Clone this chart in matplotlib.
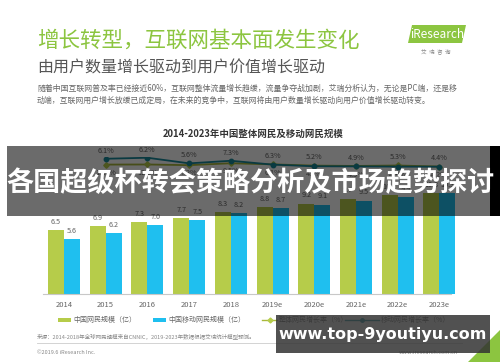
import matplotlib
matplotlib.use('Agg')
import matplotlib.pyplot as plt
from matplotlib.patches import Rectangle, Polygon
from matplotlib.lines import Line2D
import numpy as np

plt.rcParams['font.family'] = ['Noto Sans CJK SC', 'DejaVu Sans']

# ============================================
# DATA
# ============================================
years = ['2014', '2015', '2016', '2017', '2018', '2019e', '2020e', '2021e', '2022e', '2023e']
netizens = [6.5, 6.9, 7.3, 7.7, 8.3, 8.8, 9.2, 9.7, 10.1, 10.3]      # 中国网民规模(亿)
mobile_netizens = [5.6, 6.2, 7.0, 7.5, 8.2, 8.7, 9.1, 9.5, 9.9, 10.3]  # 中国移动网民规模(亿)
overall_growth = [6.1, 6.2, 5.6, 7.3, 6.3, 5.2, 4.9, 5.3, 4.4]       # 2015-2023e
mobile_growth = [11.3, 12.2, 7.2, 9.5, 6.1, 4.6, 4.5, 4.3, 4.2]

GREEN = '#b6cc4a'
BLUE = '#1fbfef'
OLIVE = '#a9b83c'
TEAL = '#1a8a9c'
HEAD_GREEN = '#8cc540'

W, H = 500, 362
fig = plt.figure(figsize=(5, 3.62), dpi=100)
fig.patch.set_facecolor('white')


def fx(x):
    return x / W


def fy(y):
    return 1 - y / H


# ============================================
# HEADER
# ============================================
fig.text(fx(37), fy(41), '增长转型，互联网基本面发生变化', fontsize=15.5,
         color=HEAD_GREEN, va='center', ha='left')
fig.text(fx(37), fy(68), '由用户数量增长驱动到用户价值增长驱动', fontsize=11.5,
         color='#555555', va='center', ha='left')
fig.text(fx(37), fy(88), '随着中国互联网普及率已经接近60%，互联网整体流量增长趋缓，流量争夺战加剧，艾瑞分析认为，无论是PC端，还是移',
         fontsize=5.7, color='#666666', va='center', ha='left')
fig.text(fx(37), fy(100), '动端，互联网用户增长放缓已成定局，在未来的竞争中，互联网将由用户数量增长驱动向用户价值增长驱动转变。',
         fontsize=5.7, color='#666666', va='center', ha='left')

# iResearch logo
fig.patches.append(Polygon([[fx(408), fy(43)], [fx(462), fy(43)], [fx(466), fy(25)], [fx(412), fy(25)]],
                           closed=True, transform=fig.transFigure, facecolor=HEAD_GREEN, edgecolor='none'))
fig.text(fx(437), fy(34), 'iResearch', fontsize=8.5, color='white', ha='center', va='center')
fig.text(fx(436), fy(51), '艾  瑞  咨  询', fontsize=4, color='#888888', ha='center', va='center')

# chart title
fig.text(fx(253), fy(134), '2014-2023年中国整体网民及移动网民规模', fontsize=6.8,
         fontweight='bold', color='#333333', ha='center', va='center')

# ============================================
# BAR CHART
# ============================================
ax = fig.add_axes([fx(43), fy(293.7), fx(451) - fx(43), fy(156.5) - fy(293.7)])
x = np.arange(len(years))
bw = 0.384
b1 = ax.bar(x - bw / 2, netizens, bw, color=GREEN, clip_on=False)
b2 = ax.bar(x + bw / 2, mobile_netizens, bw, color=BLUE, clip_on=False)

for bars in (b1, b2):
    for bar in bars:
        h = bar.get_height()
        ax.annotate(f'{h:.1f}', (bar.get_x() + bar.get_width() / 2, h),
                    xytext=(0, 3), textcoords='offset points',
                    ha='center', va='bottom', fontsize=5.2, color='#666666')

ax.set_xlim(-0.504, 9.28)
ax.set_ylim(0, 14)
ax.set_xticks(x)
ax.set_xticklabels(years, fontsize=5.5, color='#666666')
ax.tick_params(axis='x', length=0, pad=5)
ax.set_yticks([])
for s in ['top', 'left', 'right']:
    ax.spines[s].set_visible(False)
ax.spines['bottom'].set_color('#c8c8c8')
ax.spines['bottom'].set_linewidth(0.8)
ax.patch.set_alpha(0)

# growth lines
ax2 = ax.twinx()
ax2.set_ylim(-108.7, 13.3)
ax2.set_yticks([])
for s in ax2.spines.values():
    s.set_visible(False)
xl = x[1:]
ax2.plot(xl, overall_growth, color=OLIVE, lw=1.3, marker='D', ms=2.8,
         markerfacecolor=GREEN, markeredgecolor=GREEN, zorder=3)
ax2.plot(xl, mobile_growth, color=TEAL, lw=1.3, marker='o', ms=3.2,
         markerfacecolor=TEAL, markeredgecolor=TEAL, zorder=4)
for xi, og, mg in zip(xl, overall_growth, mobile_growth):
    top = max(og, mg)
    bottom = min(og, mg)
    ax2.annotate(f'{og}%', (xi, top), xytext=(0, 3), textcoords='offset points',
                 ha='center', va='bottom', fontsize=5.2, color='#666666')
    ax2.annotate(f'{mg}%', (xi, bottom), xytext=(0, -3), textcoords='offset points',
                 ha='center', va='top', fontsize=5.2, color='#666666')

# ============================================
# LEGEND
# ============================================
leg_y = fy(320)
fig.patches.append(Rectangle((fx(58), leg_y - 0.005), fx(13), 0.01, transform=fig.transFigure,
                             facecolor=GREEN, edgecolor='none'))
fig.text(fx(73), leg_y, '中国网民规模（亿）', fontsize=5, color='#666666', va='center')
fig.patches.append(Rectangle((fx(153), leg_y - 0.005), fx(13), 0.01, transform=fig.transFigure,
                             facecolor=BLUE, edgecolor='none'))
fig.text(fx(168), leg_y, '中国移动网民规模（亿）', fontsize=5, color='#666666', va='center')
fig.lines.append(Line2D([fx(262), fx(269.5), fx(277)], [leg_y, leg_y, leg_y], transform=fig.transFigure,
                        color=OLIVE, lw=1, marker='D', ms=2.5, markevery=[1],
                        markerfacecolor=GREEN, markeredgecolor=GREEN))
fig.text(fx(279), leg_y, '整体网民增长率（%）', fontsize=5, color='#666666', va='center')
fig.lines.append(Line2D([fx(345), fx(362), fx(379)], [leg_y, leg_y, leg_y], transform=fig.transFigure,
                        color=TEAL, lw=1, marker='o', ms=2.5, markevery=[1]))
fig.text(fx(381), leg_y, '移动网民增长率（%）', fontsize=5, color='#666666', va='center')

# source and footer
fig.text(fx(37), fy(337), '来源：2014-2018年全球网民规模来自CNNIC，2019-2023年数据根据艾瑞统计模型预测。',
         fontsize=4, color='#888888', va='center')
fig.lines.append(Line2D([fx(37), fx(462)], [fy(343), fy(343)], transform=fig.transFigure,
                        color='#cccccc', lw=0.6))
fig.text(fx(37), fy(352), '©2019.6 iResearch Inc.', fontsize=4, color='#888888', va='center')
fig.text(fx(458), fy(352), 'www.iresearch.com.cn', fontsize=4, color='#888888', va='center', ha='right')
fig.patches.append(Polygon([[fx(500), fy(330)], [fx(500), fy(362)], [fx(468), fy(362)]],
                           closed=True, transform=fig.transFigure, facecolor=HEAD_GREEN, edgecolor='none'))

# ============================================
# OVERLAYS
# ============================================
fig.patches.append(Rectangle((fx(7), fy(216)), fx(490) - fx(7), fy(146) - fy(216),
                             transform=fig.transFigure, facecolor='black', alpha=0.58,
                             edgecolor='none', zorder=10))
fig.patches.append(Rectangle((fx(490), fy(216)), fx(10), fy(146) - fy(216),
                             transform=fig.transFigure, facecolor='black',
                             edgecolor='none', zorder=10))
fig.text(fx(250), fy(183), '各国超级杯转会策略分析及市场趋势探讨', fontsize=19.5,
         fontweight='bold', color='white', ha='center', va='center', zorder=11)

fig.patches.append(Rectangle((fx(276), fy(353)), fx(490) - fx(276), fy(315) - fy(353),
                             transform=fig.transFigure, facecolor='#333333', alpha=0.85,
                             edgecolor='none', zorder=10))
fig.text(fx(383), fy(334), 'www.top-9youtiyu.com', fontsize=11.5, fontweight='bold',
         color='white', ha='center', va='center', zorder=11, family='DejaVu Sans')

fig.savefig('out.png', dpi=100)
